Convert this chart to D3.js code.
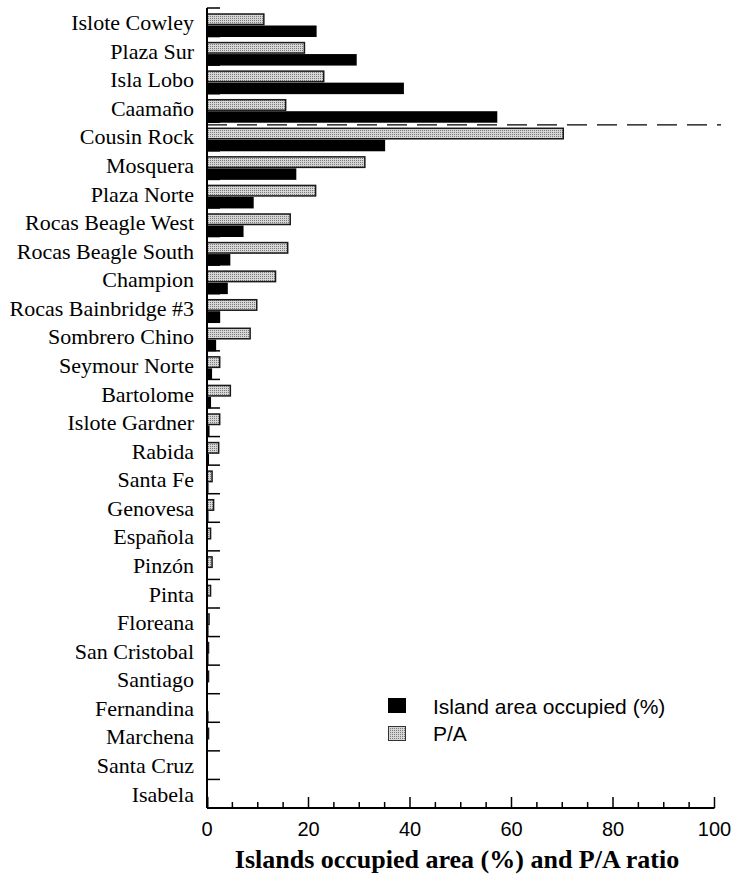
<!DOCTYPE html>
<html>
<head>
<meta charset="utf-8">
<script src="https://cdn.jsdelivr.net/npm/d3@7"></script>
<style>
  body { margin: 0; background: #fff; }
</style>
</head>
<body>
<div id="chart"></div>
<script>
// data
var islands = ["Islote Cowley", "Plaza Sur", "Isla Lobo", "Caamaño", "Cousin Rock", "Mosquera",
    "Plaza Norte", "Rocas Beagle West", "Rocas Beagle South", "Champion", "Rocas Bainbridge #3",
    "Sombrero Chino", "Seymour Norte", "Bartolome", "Islote Gardner", "Rabida", "Santa Fe",
    "Genovesa", "Española", "Pinzón", "Pinta", "Floreana", "San Cristobal", "Santiago",
    "Fernandina", "Marchena", "Santa Cruz", "Isabela"];
var areaOccupied = [21.6, 29.5, 38.8, 57.2, 35.1, 17.6, 9.2, 7.2, 4.6, 4.1, 2.6, 1.8, 1.0, 0.8,
    0.5, 0.4, 0.3, 0.3, 0.1, 0.1, 0.1, 0.3, 0.3, 0.1, 0.3, 0.1, 0, 0.3];
var paRatio = [11.2, 19.2, 23.0, 15.5, 70.2, 31.1, 21.4, 16.4, 15.9, 13.5, 9.8, 8.5, 2.5, 4.6,
    2.5, 2.3, 1.0, 1.3, 0.7, 1.0, 0.7, 0.4, 0.3, 0.3, 0, 0.3, 0, 0];
var xTicks = [0, 20, 40, 60, 80, 100];
var seriesNames = ["Island area occupied (%)", "P/A"];

var svg = d3.select("#chart")
    .append("svg")
    .attr("width", 732)
    .attr("height", 876);

// stipple fill for the P/A bars
var pat = svg.append("defs").append("pattern")
    .attr("id", "stip")
    .attr("width", 2).attr("height", 2)
    .attr("patternUnits", "userSpaceOnUse");
pat.append("rect").attr("width", 2).attr("height", 2).attr("fill", "#d6d6d6");
pat.append("rect").attr("width", 1).attr("height", 1).attr("fill", "#7a7a7a");

var plotLeft = 207, plotRight = 714.5, plotTop = 8, plotBottom = 808;

var xScale = d3.scaleLinear().domain([0, 100]).range([plotLeft, plotRight]);
var yScale = d3.scaleBand().domain(islands).range([plotTop, plotBottom]);
var sub = d3.scaleBand().domain(["pa", "area"]).range([6, 29]);

var rows = islands.map(function(d, i) {
    return {name: d, area: areaOccupied[i], pa: paRatio[i]};
});

// y axis: inward ticks at band edges
var edges = islands.map(function(d) { return yScale(d); });
svg.append("g").selectAll("line")
    .data(edges)
    .enter().append("line")
    .attr("x1", plotLeft).attr("x2", plotLeft + 13)
    .attr("y1", function(d) { return d; })
    .attr("y2", function(d) { return d; })
    .attr("stroke", "#000")
    .attr("stroke-width", 1.5);

// P/A bars
svg.append("g").selectAll("rect")
    .data(rows.filter(function(d) { return d.pa > 0; }))
    .enter().append("rect")
    .attr("x", xScale(0))
    .attr("y", function(d) { return yScale(d.name) + sub("pa"); })
    .attr("width", function(d) { return xScale(d.pa) - xScale(0); })
    .attr("height", sub.bandwidth() - 1)
    .attr("fill", "url(#stip)")
    .attr("stroke", "#1a1a1a")
    .attr("stroke-width", 1.5);

// area occupied bars
svg.append("g").selectAll("rect")
    .data(rows.filter(function(d) { return d.area > 0; }))
    .enter().append("rect")
    .attr("x", xScale(0))
    .attr("y", function(d) { return yScale(d.name) + sub("area"); })
    .attr("width", function(d) { return xScale(d.area) - xScale(0); })
    .attr("height", sub.bandwidth())
    .attr("fill", "#000");

svg.append("line")
    .attr("x1", plotLeft).attr("x2", plotLeft)
    .attr("y1", plotTop).attr("y2", plotBottom)
    .attr("stroke", "#000").attr("stroke-width", 2);

// category labels
svg.append("g").selectAll("text")
    .data(islands)
    .enter().append("text")
    .attr("x", 194)
    .attr("y", function(d) { return yScale(d) + yScale.bandwidth() / 2; })
    .attr("dy", "0.36em")
    .attr("text-anchor", "end")
    .style("font-family", "'Liberation Serif', 'Times New Roman', serif")
    .style("font-size", "22px")
    .text(function(d) { return d; });

// dashed separator between Caamaño and Cousin Rock
svg.append("line")
    .attr("x1", plotLeft).attr("x2", 721)
    .attr("y1", yScale("Cousin Rock") + 2.5)
    .attr("y2", yScale("Cousin Rock") + 2.5)
    .attr("stroke", "#000")
    .attr("stroke-width", 1.3)
    .attr("stroke-dasharray", "20,10");

// x axis with inward major and minor ticks
var xAxis = svg.append("g").attr("transform", "translate(0," + plotBottom + ")");
xAxis.append("line")
    .attr("x1", plotLeft).attr("x2", plotRight)
    .attr("stroke", "#000").attr("stroke-width", 2);
xAxis.selectAll(".tick")
    .data(d3.range(0, 101, 5))
    .enter().append("line")
    .attr("class", "tick")
    .attr("x1", function(d) { return xScale(d); })
    .attr("x2", function(d) { return xScale(d); })
    .attr("y1", 0)
    .attr("y2", function(d) { return d % 20 === 0 ? -11 : -6; })
    .attr("stroke", "#000").attr("stroke-width", 1.5);
xAxis.selectAll("text")
    .data(xTicks)
    .enter().append("text")
    .attr("x", function(d) { return xScale(d); })
    .attr("y", 28)
    .attr("text-anchor", "middle")
    .style("font-family", "'Liberation Sans', Arial, sans-serif")
    .style("font-size", "20px")
    .text(function(d) { return d; });

// X label
svg.append("text")
    .attr("x", 457)
    .attr("y", 868)
    .attr("text-anchor", "middle")
    .style("font-family", "'Liberation Serif', 'Times New Roman', serif")
    .style("font-weight", "bold")
    .style("font-size", "26px")
    .text("Islands occupied area (%) and P/A ratio");

// legend
var legend = svg.append("g");
legend.append("rect").attr("x", 388).attr("y", 698).attr("width", 18).attr("height", 15)
    .attr("fill", "#000");
legend.append("rect").attr("x", 388.5).attr("y", 726.5).attr("width", 17).attr("height", 14)
    .attr("fill", "url(#stip)").attr("stroke", "#333").attr("stroke-width", 1);
legend.selectAll("text")
    .data(seriesNames)
    .enter().append("text")
    .attr("x", 433)
    .attr("y", function(d, i) { return 706 + i * 27; })
    .attr("dy", "0.36em")
    .style("font-family", "'Liberation Sans', Arial, sans-serif")
    .style("font-size", "21px")
    .text(function(d) { return d; });
</script>
</body>
</html>
